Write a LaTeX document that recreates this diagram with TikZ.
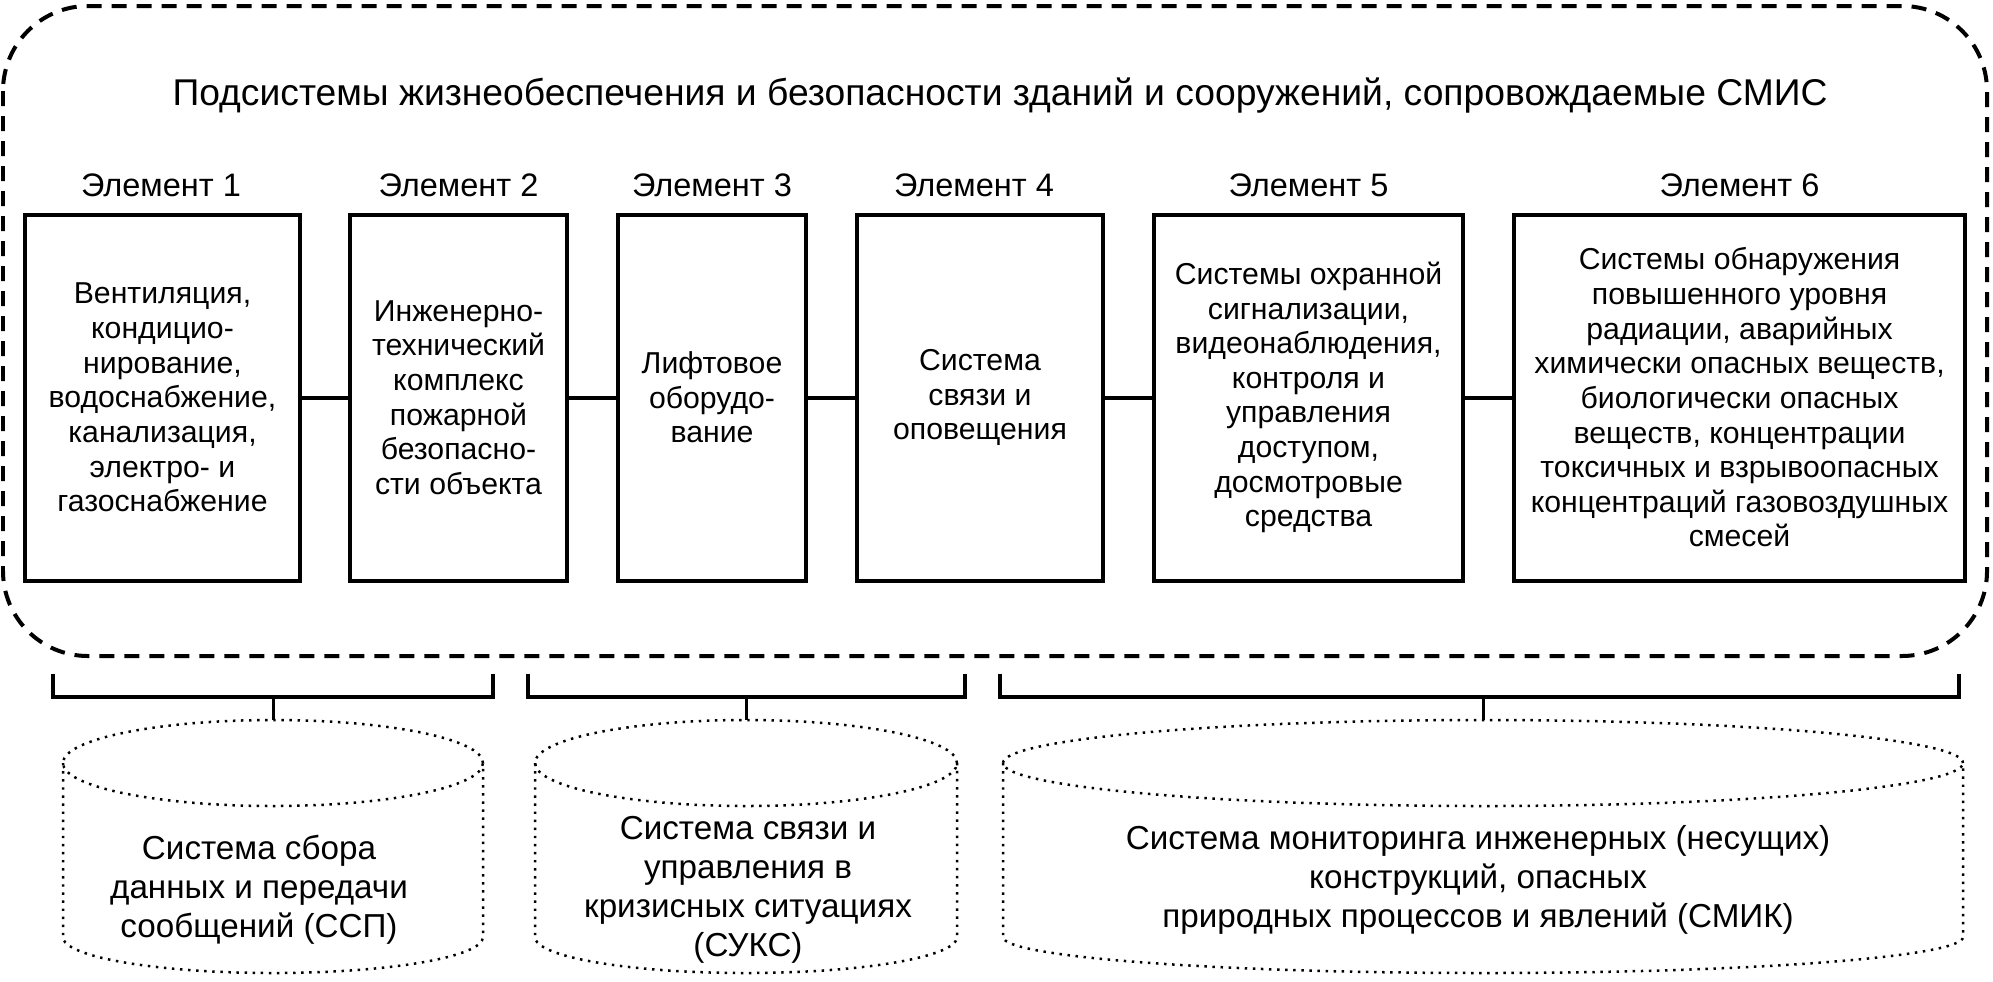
\documentclass[tikz,border=0pt]{standalone}
\usepackage{fontspec}
\setmainfont{Liberation Sans}
\tikzset{
  elbox/.style={draw,line width=0.04cm,minimum height=3.66cm,inner sep=0pt,align=center,font=\fontsize{8.6}{9.85}\selectfont},
  ellabel/.style={font=\fontsize{9.25}{11}\selectfont},
  link/.style={line width=0.04cm},
  frame/.style={line width=0.04cm,dash pattern=on 0.15cm off 0.10cm,rounded corners=0.85cm},
  cyl/.style={line width=0.025cm,dash pattern=on 0.7pt off 1.6pt},
  cyltext/.style={align=center,font=\fontsize{9.45}{11.1}\selectfont}
}
\begin{document}
\begin{tikzpicture}
\useasboundingbox (0,0) rectangle (19.93,-9.81);
%outer frame
\draw[frame] (0.03,-0.06) rectangle (19.87,-6.56);
\node (title) at (10.0,-0.96) {\fontsize{10.6}{13}\selectfont Подсистемы жизнеобеспечения и безопасности зданий и сооружений, сопровождаемые СМИС};
%elements
\node[elbox,minimum width=2.75cm] (b1) at (1.625,-3.975) {Вентиляция,\\кондицио-\\нирование,\\водоснабжение,\\канализация,\\электро- и\\газоснабжение};
\node[elbox,minimum width=2.17cm] (b2) at (4.585,-3.975) {Инженерно-\\технический\\комплекс\\пожарной\\безопасно-\\сти объекта};
\node[elbox,minimum width=1.88cm] (b3) at (7.12,-3.975) {Лифтовое\\оборудо-\\вание};
\node[elbox,minimum width=2.46cm] (b4) at (9.80,-3.975) {Система\\связи и\\оповещения};
\node[elbox,minimum width=3.09cm] (b5) at (13.085,-3.975) {Системы охранной\\сигнализации,\\видеонаблюдения,\\контроля и\\управления\\доступом,\\досмотровые\\средства};
\node[elbox,minimum width=4.51cm] (b6) at (17.395,-3.975) {Системы обнаружения\\повышенного уровня\\радиации, аварийных\\химически опасных веществ,\\биологически опасных\\веществ, концентрации\\токсичных и взрывоопасных\\концентраций газовоздушных\\смесей};
\node[ellabel] (e1) at (1.61,-1.85) {Элемент 1};
\node[ellabel] (e2) at (4.585,-1.85) {Элемент 2};
\node[ellabel] (e3) at (7.12,-1.85) {Элемент 3};
\node[ellabel] (e4) at (9.74,-1.85) {Элемент 4};
\node[ellabel] (e5) at (13.085,-1.85) {Элемент 5};
\node[ellabel] (e6) at (17.395,-1.85) {Элемент 6};
\draw[link] (b1.east) -- (b2.west);
\draw[link] (b2.east) -- (b3.west);
\draw[link] (b3.east) -- (b4.west);
\draw[link] (b4.east) -- (b5.west);
\draw[link] (b5.east) -- (b6.west);
%brackets
\draw[link] (0.53,-6.74) -- (0.53,-6.97) -- (4.93,-6.97) -- (4.93,-6.74);
\draw[link] (5.28,-6.74) -- (5.28,-6.97) -- (9.65,-6.97) -- (9.65,-6.74);
\draw[link] (10.00,-6.74) -- (10.00,-6.97) -- (19.59,-6.97) -- (19.59,-6.74);
\coordinate (k1) at (2.73,-6.97);
\coordinate (k2) at (7.46,-6.97);
\coordinate (k3) at (14.83,-6.97);
%storages
\draw[cyl] (2.73,-7.63) ellipse (2.10 and 0.43);
\draw[cyl] (0.63,-7.63) -- (0.63,-9.37) arc (180:360:2.10 and 0.36) -- (4.83,-7.63);
\draw[cyl] (7.46,-7.63) ellipse (2.11 and 0.43);
\draw[cyl] (5.35,-7.63) -- (5.35,-9.37) arc (180:360:2.11 and 0.36) -- (9.57,-7.63);
\draw[cyl] (14.83,-7.63) ellipse (4.80 and 0.43);
\draw[cyl] (10.03,-7.63) -- (10.03,-9.37) arc (180:360:4.80 and 0.36) -- (19.63,-7.63);
\coordinate (c1top) at (2.73,-7.20);
\coordinate (c2top) at (7.46,-7.20);
\coordinate (c3top) at (14.83,-7.20);
\draw[line width=0.03cm] (k1) -- (c1top);
\draw[line width=0.03cm] (k2) -- (c2top);
\draw[line width=0.03cm] (k3) -- (c3top);
\node[cyltext] (c1) at (2.59,-8.90) {Система сбора\\данных и передачи\\сообщений (ССП)};
\node[cyltext] (c2) at (7.48,-8.90) {Система связи и\\управления в\\кризисных ситуациях\\(СУКС)};
\node[cyltext] (c3) at (14.78,-8.80) {Система мониторинга инженерных (несущих)\\конструкций, опасных\\природных процессов и явлений (СМИК)};
\end{tikzpicture}
\end{document}
